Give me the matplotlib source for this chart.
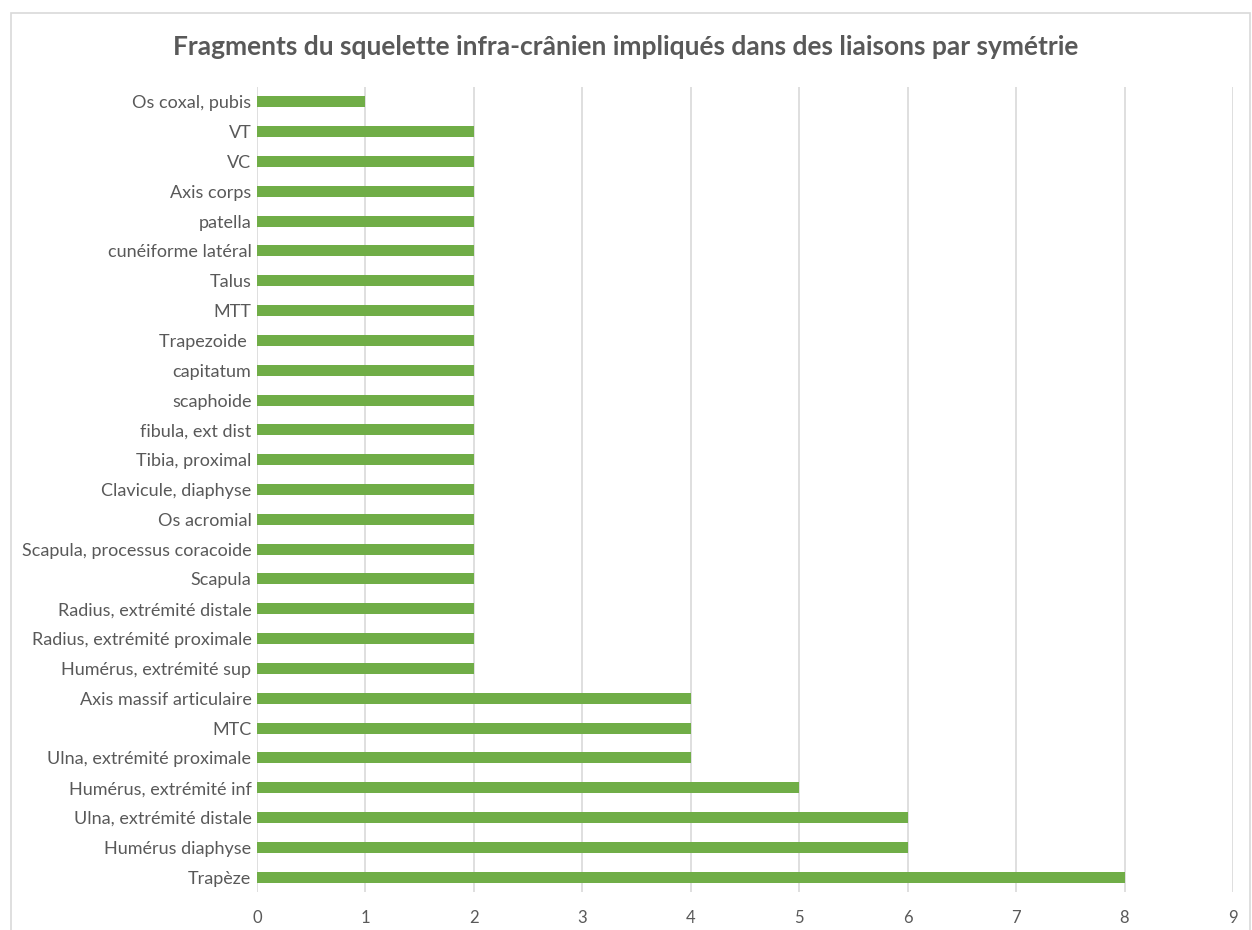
import matplotlib
matplotlib.use("Agg")
import matplotlib.pyplot as plt
from matplotlib.patches import Rectangle

categories = [
    "Trapèze", "Humérus diaphyse", "Ulna, extrémité distale", "Humérus, extrémité inf",
    "Ulna, extrémité proximale", "MTC", "Axis massif articulaire", "Humérus, extrémité sup",
    "Radius, extrémité proximale", "Radius, extrémité distale", "Scapula",
    "Scapula, processus coracoide", "Os acromial", "Clavicule, diaphyse", "Tibia, proximal",
    "fibula, ext dist", "scaphoide", "capitatum", "Trapezoide ", "MTT", "Talus",
    "cunéiforme latéral", "patella", "Axis corps", "VC", "VT", "Os coxal, pubis",
]
values = [8, 6, 6, 5, 4, 4, 4, 2, 2, 2, 2, 2, 2, 2, 2, 2, 2, 2, 2, 2, 2, 2, 2, 2, 2, 2, 1]
xticks = list(range(0, 10))
title = "Fragments du squelette infra-crânien impliqués dans des liaisons par symétrie"

plt.rcParams['font.family'] = ['Lato', 'DejaVu Sans']

fig = plt.figure(figsize=(12.52, 9.30), dpi=100)
fig.patches.append(Rectangle((11/1252, -0.1), (1250-11)/1252, (930-13)/930 + 0.1,
                             transform=fig.transFigure, fill=False,
                             edgecolor="#D9D9D9", linewidth=1.2))

ax = fig.add_axes([257/1252, 38/930, (1233-257)/1252, (892-87)/930])
y = list(range(len(categories)))
ax.barh(y, values, height=0.37, color="#70AD47", zorder=3)
ax.set_ylim(-0.5, len(categories) - 0.5)
ax.set_xlim(0, 9)
ax.set_xticks(xticks)
ax.set_yticks(y)
ax.set_yticklabels(categories)
ax.grid(axis="x", color="#D9D9D9", linewidth=1.2, zorder=0)
for s in ax.spines.values():
    s.set_visible(False)
ax.tick_params(axis="both", length=0, labelsize=12, colors="#595959")
ax.tick_params(axis="y", labelsize=13, pad=4)
ax.tick_params(axis="x", pad=13)
fig.text(0.5, 1 - 47/930, title, ha="center", va="center", fontsize=19,
         fontweight="bold", color="#595959")

fig.savefig("out.png", dpi=100)
